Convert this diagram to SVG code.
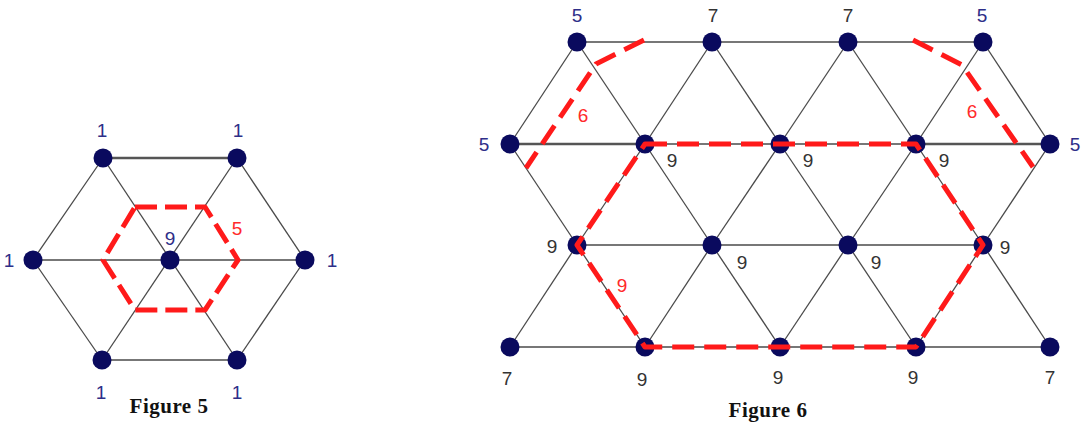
<svg xmlns="http://www.w3.org/2000/svg" width="1084" height="425" viewBox="0 0 1084 425">
<style>
.e{stroke:#4a4a4a;stroke-width:1.3;fill:none}
.t{stroke:#555;stroke-width:2.6;fill:none}
.n{fill:#0a0a5e}
.r{stroke:#ff1a1a;stroke-width:5;fill:none;stroke-dasharray:22 8;stroke-linejoin:round}
.r6{stroke:#ff1a1a;stroke-width:5;fill:none;stroke-dasharray:22 10;stroke-linejoin:round}
.l{font-family:"Liberation Sans",Arial,sans-serif;font-size:19px;text-anchor:middle;dominant-baseline:central}
.b{fill:#2e2e88}
.k{fill:#333}
.red{fill:#ff2a2a}
.cap{font-family:"Liberation Serif","Times New Roman",serif;font-weight:bold;font-size:21px;text-anchor:middle;fill:#111;letter-spacing:0.5px}
</style>
<rect width="1084" height="425" fill="#fff"/>
<g id="connectors">
  <line class="t" x1="103" y1="158" x2="237" y2="158"/>
  <line class="e" x1="102" y1="360" x2="237" y2="360"/>
  <line class="e" x1="33" y1="260" x2="305" y2="260"/>
  <line class="e" x1="103" y1="158" x2="33" y2="260"/>
  <line class="e" x1="33" y1="260" x2="102" y2="360"/>
  <line class="e" x1="237" y1="158" x2="305" y2="260"/>
  <line class="e" x1="305" y1="260" x2="237" y2="360"/>
  <line class="e" x1="103" y1="158" x2="237" y2="360"/>
  <line class="e" x1="237" y1="158" x2="102" y2="360"/>
  <line class="e" x1="577" y1="42" x2="983" y2="42"/>
  <line class="t" x1="510" y1="144" x2="645" y2="144"/>
  <line class="e" x1="645" y1="144" x2="916" y2="144"/>
  <line class="t" x1="916" y1="144" x2="1050" y2="144"/>
  <line class="e" x1="577" y1="245" x2="983" y2="245"/>
  <line class="e" x1="510" y1="347" x2="1050" y2="347"/>
  <line class="e" x1="577" y1="42" x2="510" y2="144"/>
  <line class="e" x1="577" y1="42" x2="645" y2="144"/>
  <line class="e" x1="712" y1="42" x2="645" y2="144"/>
  <line class="e" x1="712" y1="42" x2="780" y2="144"/>
  <line class="e" x1="848" y1="42" x2="780" y2="144"/>
  <line class="e" x1="848" y1="42" x2="916" y2="144"/>
  <line class="e" x1="983" y1="42" x2="916" y2="144"/>
  <line class="e" x1="983" y1="42" x2="1050" y2="144"/>
  <line class="e" x1="510" y1="144" x2="577" y2="245"/>
  <line class="e" x1="645" y1="144" x2="577" y2="245"/>
  <line class="e" x1="645" y1="144" x2="712" y2="245"/>
  <line class="e" x1="780" y1="144" x2="712" y2="245"/>
  <line class="e" x1="780" y1="144" x2="848" y2="245"/>
  <line class="e" x1="916" y1="144" x2="848" y2="245"/>
  <line class="e" x1="916" y1="144" x2="983" y2="245"/>
  <line class="e" x1="1050" y1="144" x2="983" y2="245"/>
  <line class="e" x1="577" y1="245" x2="510" y2="347"/>
  <line class="e" x1="577" y1="245" x2="645" y2="347"/>
  <line class="e" x1="712" y1="245" x2="645" y2="347"/>
  <line class="e" x1="712" y1="245" x2="780" y2="347"/>
  <line class="e" x1="848" y1="245" x2="780" y2="347"/>
  <line class="e" x1="848" y1="245" x2="916" y2="347"/>
  <line class="e" x1="983" y1="245" x2="916" y2="347"/>
  <line class="e" x1="983" y1="245" x2="1050" y2="347"/>
</g>
<g id="fig5-nodes">
  <g id="f5-tl"><circle class="n" cx="103" cy="158" r="9.5"/></g>
  <g id="f5-tr"><circle class="n" cx="237" cy="158" r="9.5"/></g>
  <g id="f5-l"><circle class="n" cx="33" cy="260" r="9.5"/></g>
  <g id="f5-c"><circle class="n" cx="170" cy="260" r="9.5"/></g>
  <g id="f5-r"><circle class="n" cx="305" cy="260" r="9.5"/></g>
  <g id="f5-bl"><circle class="n" cx="102" cy="360" r="9.5"/></g>
  <g id="f5-br"><circle class="n" cx="237" cy="360" r="9.5"/></g>
</g>
<g id="fig6-nodes">
  <g id="f6-a1"><circle class="n" cx="577" cy="42" r="9.5"/></g>
  <g id="f6-a2"><circle class="n" cx="712" cy="42" r="9.5"/></g>
  <g id="f6-a3"><circle class="n" cx="848" cy="42" r="9.5"/></g>
  <g id="f6-a4"><circle class="n" cx="983" cy="42" r="9.5"/></g>
  <g id="f6-b1"><circle class="n" cx="510" cy="144" r="9.5"/></g>
  <g id="f6-b2"><circle class="n" cx="645" cy="144" r="9.5"/></g>
  <g id="f6-b3"><circle class="n" cx="780" cy="144" r="9.5"/></g>
  <g id="f6-b4"><circle class="n" cx="916" cy="144" r="9.5"/></g>
  <g id="f6-b5"><circle class="n" cx="1050" cy="144" r="9.5"/></g>
  <g id="f6-c1"><circle class="n" cx="577" cy="245" r="9.5"/></g>
  <g id="f6-c2"><circle class="n" cx="712" cy="245" r="9.5"/></g>
  <g id="f6-c3"><circle class="n" cx="848" cy="245" r="9.5"/></g>
  <g id="f6-c4"><circle class="n" cx="983" cy="245" r="9.5"/></g>
  <g id="f6-d1"><circle class="n" cx="510" cy="347" r="9.5"/></g>
  <g id="f6-d2"><circle class="n" cx="645" cy="347" r="9.5"/></g>
  <g id="f6-d3"><circle class="n" cx="780" cy="347" r="9.5"/></g>
  <g id="f6-d4"><circle class="n" cx="916" cy="347" r="9.5"/></g>
  <g id="f6-d5"><circle class="n" cx="1050" cy="347" r="9.5"/></g>
</g>
<g id="red-paths">
  <polygon class="r" points="135,207 205,207 238,260 205,310 135,310 103,260"/>
  <polyline class="r6" points="644,40 596,64 526,168"/>
  <polyline class="r6" points="913,40 962,65 1033,167"/>
  <polygon class="r6" points="645,144 916,144 983,245 916,347 645,347 577,245"/>
</g>
<g id="labels">
  <text class="l b" x="102" y="130">1</text>
  <text class="l b" x="238" y="130">1</text>
  <text class="l b" x="9" y="260">1</text>
  <text class="l b" x="332" y="260">1</text>
  <text class="l b" x="101" y="392">1</text>
  <text class="l b" x="237" y="392">1</text>
  <text class="l b" x="170" y="238">9</text>
  <text class="l red" x="237" y="228">5</text>
  <text class="l b" x="577" y="15">5</text>
  <text class="l k" x="713" y="15">7</text>
  <text class="l k" x="848" y="15">7</text>
  <text class="l b" x="982" y="15">5</text>
  <text class="l b" x="484" y="144">5</text>
  <text class="l b" x="1075" y="144">5</text>
  <text class="l red" x="583" y="115">6</text>
  <text class="l red" x="972" y="111">6</text>
  <text class="l k" x="672" y="160">9</text>
  <text class="l k" x="808" y="160">9</text>
  <text class="l k" x="944" y="160">9</text>
  <text class="l k" x="552" y="246">9</text>
  <text class="l k" x="742" y="262">9</text>
  <text class="l k" x="876" y="262">9</text>
  <text class="l k" x="1005" y="247">9</text>
  <text class="l red" x="622" y="285">9</text>
  <text class="l k" x="507" y="378">7</text>
  <text class="l k" x="642" y="379">9</text>
  <text class="l k" x="778" y="377">9</text>
  <text class="l k" x="913" y="377">9</text>
  <text class="l k" x="1050" y="377">7</text>
  <text class="cap" x="169" y="413">Figure 5</text>
  <text class="cap" x="768" y="417">Figure 6</text>
</g>
</svg>
